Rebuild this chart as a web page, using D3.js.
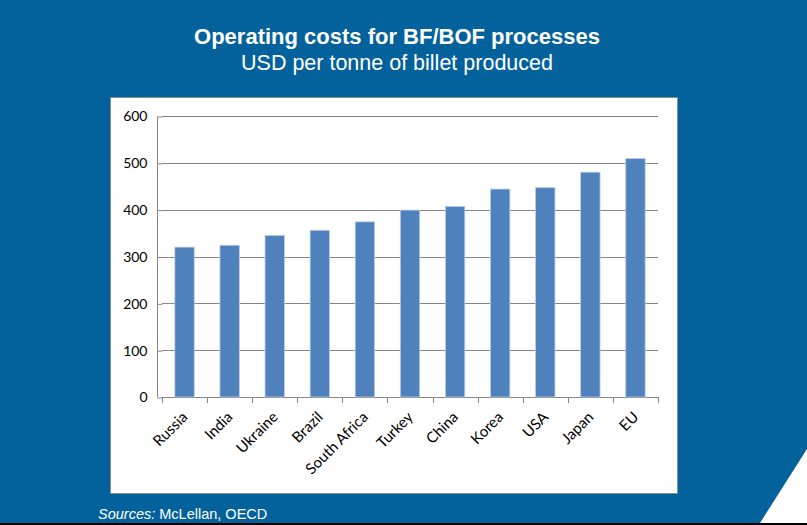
<!DOCTYPE html>
<html><head><meta charset="utf-8">
<script src="https://cdn.jsdelivr.net/npm/d3@7"></script>
<style>html,body{margin:0;padding:0;background:#03629b;}svg{display:block;}</style>
</head><body>
<script>
const categories = ["Russia","India","Ukraine","Brazil","South Africa","Turkey","China","Korea","USA","Japan","EU"];
const costs = [320, 324, 345, 356, 374, 399, 407, 444, 447, 480, 509];
const yTicks = [0, 100, 200, 300, 400, 500, 600];
const title = "Operating costs for BF/BOF processes";
const subtitle = "USD per tonne of billet produced";

const W = 807, H = 525;
const svg = d3.select("body").append("svg").attr("width", W).attr("height", H);

svg.append("rect").attr("width", W).attr("height", H).attr("fill", "#03629b");
svg.append("polygon").attr("points", "760,523 807,449 807,525 760,525").attr("fill", "#ffffff");
svg.append("rect").attr("x", 0).attr("y", 523).attr("width", W).attr("height", 2).attr("fill", "#000");

svg.append("text").attr("x", 397).attr("y", 44).attr("text-anchor", "middle")
  .attr("fill", "#fff").attr("font-family", "Liberation Sans, Arial, sans-serif")
  .attr("font-weight", "bold").attr("font-size", 22).text(title);
svg.append("text").attr("x", 397).attr("y", 70).attr("text-anchor", "middle")
  .attr("fill", "#fff").attr("font-family", "Liberation Sans, Arial, sans-serif")
  .attr("font-size", 21.5).text(subtitle);

// white chart panel
svg.append("rect").attr("x", 110.5).attr("y", 97.5).attr("width", 567).attr("height", 396)
  .attr("fill", "#fff").attr("stroke", "#8c8c8c").attr("stroke-width", 1);

const x = d3.scaleBand().domain(categories).range([162, 658]).paddingInner(0.57).paddingOuter(0.285);
const y = d3.scaleLinear().domain([0, 600]).range([397, 116]);

const g = svg.append("g");
g.selectAll("line.grid").data(yTicks).join("line")
  .attr("x1", 162).attr("x2", 658)
  .attr("y1", d => Math.round(y(d)) + 0.5).attr("y2", d => Math.round(y(d)) + 0.5)
  .attr("stroke", "#868686").attr("stroke-width", 1);

g.selectAll("rect.bar").data(costs).join("rect")
  .attr("x", (d, i) => x(categories[i]))
  .attr("y", d => y(d))
  .attr("width", x.bandwidth())
  .attr("height", d => y(0) - y(d))
  .attr("fill", "#4f81bd")
  .attr("stroke", "#b9cde5").attr("stroke-width", 0.8);

const yAxis = d3.axisLeft(y).tickValues(yTicks).tickSize(5).tickPadding(10);
const ya = svg.append("g").attr("transform", "translate(162.5,0.5)").call(yAxis);
ya.select(".domain").attr("stroke", "#868686").attr("d", "M-5,116V397");
ya.selectAll(".tick line").attr("stroke", "#868686");
ya.selectAll(".tick text").attr("fill", "#000").attr("font-family", "Lato, 'Open Sans', sans-serif").attr("font-size", 14);

const bounds = d3.range(categories.length + 1).map(i => 162 + i * (658 - 162) / categories.length);
svg.append("g").selectAll("line").data(bounds).join("line")
  .attr("x1", d => Math.round(d) + 0.5).attr("x2", d => Math.round(d) + 0.5)
  .attr("y1", 397).attr("y2", 403).attr("stroke", "#868686");

svg.append("g").selectAll("text").data(categories).join("text")
  .attr("transform", d => `translate(${x(d) + x.bandwidth() / 2 + 4},${418}) rotate(-45)`)
  .attr("text-anchor", "end")
  .attr("fill", "#000").attr("font-family", "Lato, 'Open Sans', sans-serif").attr("font-size", 15)
  .text(d => d);

const src = svg.append("text").attr("x", 98).attr("y", 519).attr("fill", "#fff")
  .attr("font-family", "Liberation Sans, Arial, sans-serif").attr("font-size", 14.5);
src.append("tspan").attr("font-style", "italic").text("Sources:");
src.append("tspan").text(" McLellan, OECD");
</script>
</body></html>
